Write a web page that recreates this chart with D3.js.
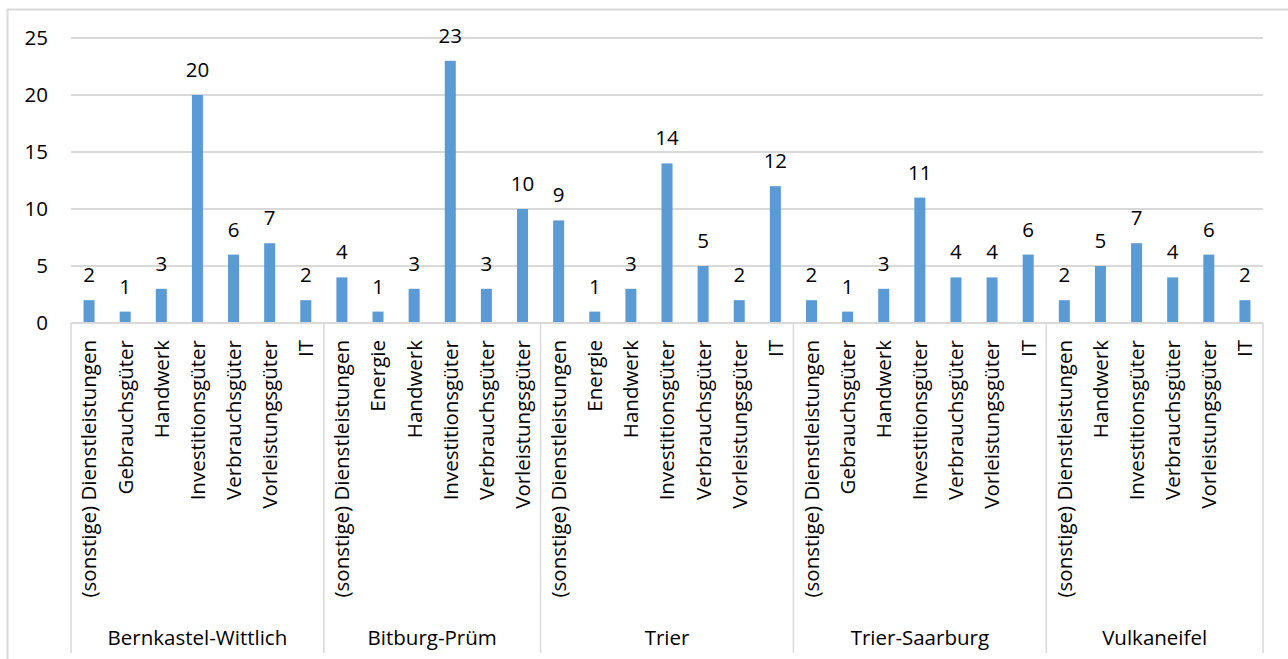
<!DOCTYPE html>
<html>
<head>
<meta charset="utf-8">
<script src="https://cdn.jsdelivr.net/npm/d3@7"></script>
<style>
  html, body { margin: 0; padding: 0; background: #fff; }
  svg { display: block; }
</style>
</head>
<body>
<div id="chart"></div>
<script>
// Regions (outer axis level)
const groups = ["Bernkastel-Wittlich", "Bitburg-Prüm", "Trier", "Trier-Saarburg", "Vulkaneifel"]

// Sectors per region (inner axis level)
const sectors = [
  ["(sonstige) Dienstleistungen", "Gebrauchsgüter", "Handwerk", "Investitionsgüter", "Verbrauchsgüter", "Vorleistungsgüter", "IT"],
  ["(sonstige) Dienstleistungen", "Energie", "Handwerk", "Investitionsgüter", "Verbrauchsgüter", "Vorleistungsgüter"],
  ["(sonstige) Dienstleistungen", "Energie", "Handwerk", "Investitionsgüter", "Verbrauchsgüter", "Vorleistungsgüter", "IT"],
  ["(sonstige) Dienstleistungen", "Gebrauchsgüter", "Handwerk", "Investitionsgüter", "Verbrauchsgüter", "Vorleistungsgüter", "IT"],
  ["(sonstige) Dienstleistungen", "Handwerk", "Investitionsgüter", "Verbrauchsgüter", "Vorleistungsgüter", "IT"]
]

// Counts per sector, same order
const counts = [
  [2, 1, 3, 20, 6, 7, 2],
  [4, 1, 3, 23, 3, 10],
  [9, 1, 3, 14, 5, 2, 12],
  [2, 1, 3, 11, 4, 4, 6],
  [2, 5, 7, 4, 6, 2]
]

const yTicks = [0, 5, 10, 15, 20, 25]

const width = 1288
const height = 659
const plotLeft = 71
const plotRight = 1263
const plotTop = 38
const plotBottom = 323
const axisBottom = 653
const fontFamily = "'Open Sans', sans-serif"
const fontSize = 20.5
const barColor = "#5b9bd5"
const gridColor = "#d9d9d9"

// flatten into one row per bar
const rows = []
groups.forEach((g, gi) => {
  sectors[gi].forEach((s, si) => {
    rows.push({ group: g, gi, sector: s, value: counts[gi][si], key: `${gi}-${si}` })
  })
})

const x = d3.scaleBand()
  .domain(rows.map(d => d.key))
  .range([plotLeft, plotRight])
  .paddingInner(0.695)
  .paddingOuter(0.3475)

const y = d3.scaleLinear()
  .domain([0, 25])
  .range([plotBottom, plotTop])

const svg = d3.select("#chart").append("svg")
  .attr("width", width)
  .attr("height", height)
  .attr("font-family", fontFamily)
  .attr("font-size", fontSize)

// chart area border
svg.append("rect")
  .attr("x", 7.5)
  .attr("y", 9.5)
  .attr("width", width + 10)
  .attr("height", height + 10)
  .attr("fill", "none")
  .attr("stroke", gridColor)
  .attr("stroke-width", 2)

// gridlines
svg.append("g")
  .selectAll("line")
  .data(yTicks.filter(t => t > 0))
  .join("line")
    .attr("x1", plotLeft)
    .attr("x2", plotRight)
    .attr("y1", d => y(d))
    .attr("y2", d => y(d))
    .attr("stroke", gridColor)
    .attr("stroke-width", 2)

// y tick labels
svg.append("g")
  .selectAll("text")
  .data(yTicks)
  .join("text")
    .attr("x", 48)
    .attr("y", d => y(d))
    .attr("dy", "0.36em")
    .attr("text-anchor", "end")
    .attr("fill", "#000")
    .text(d => d)

// bars
svg.append("g")
  .selectAll("rect")
  .data(rows)
  .join("rect")
    .attr("x", d => x(d.key))
    .attr("width", x.bandwidth())
    .attr("y", d => y(d.value))
    .attr("height", d => y(0) - y(d.value))
    .attr("fill", barColor)

// value labels
svg.append("g")
  .selectAll("text")
  .data(rows)
  .join("text")
    .attr("x", d => x(d.key) + x.bandwidth() / 2)
    .attr("y", d => y(d.value) - 18)
    .attr("text-anchor", "middle")
    .attr("fill", "#000")
    .text(d => d.value)

// category axis: baseline + group separators
svg.append("line")
  .attr("x1", plotLeft)
  .attr("x2", plotRight)
  .attr("y1", plotBottom)
  .attr("y2", plotBottom)
  .attr("stroke", gridColor)
  .attr("stroke-width", 2)

const step = x.step()
const bounds = [0]
sectors.forEach(s => bounds.push(bounds[bounds.length - 1] + s.length))

svg.append("g")
  .selectAll("line")
  .data(bounds)
  .join("line")
    .attr("x1", d => plotLeft + d * step)
    .attr("x2", d => plotLeft + d * step)
    .attr("y1", plotBottom)
    .attr("y2", axisBottom)
    .attr("stroke", gridColor)
    .attr("stroke-width", 1.5)

// sector labels (rotated)
svg.append("g")
  .selectAll("text")
  .data(rows)
  .join("text")
    .attr("transform", d => `translate(${x(d.key) + x.bandwidth() / 2},340) rotate(-90)`)
    .attr("dy", "0.36em")
    .attr("text-anchor", "end")
    .attr("fill", "#000")
    .text(d => d.sector)

// group labels
svg.append("g")
  .selectAll("text")
  .data(groups)
  .join("text")
    .attr("x", (d, i) => plotLeft + (bounds[i] + bounds[i + 1]) / 2 * step)
    .attr("y", 638)
    .attr("dy", "0.36em")
    .attr("text-anchor", "middle")
    .attr("fill", "#000")
    .text(d => d)
</script>
</body>
</html>
